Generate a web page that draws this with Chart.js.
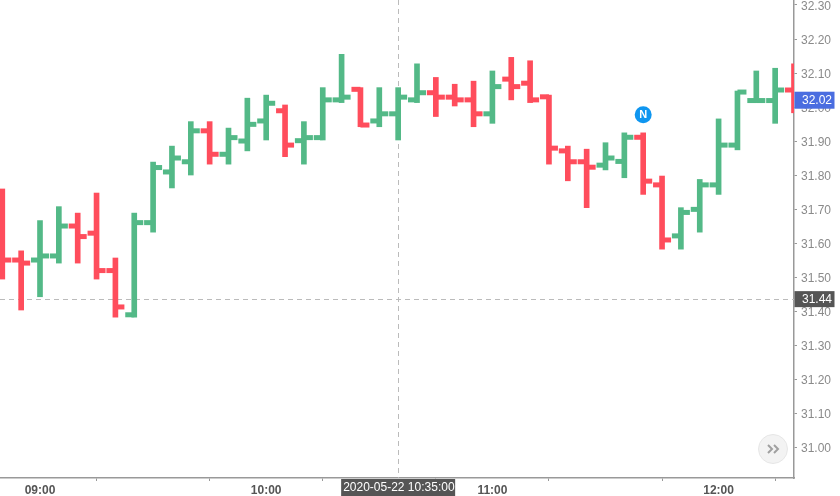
<!DOCTYPE html>
<html>
<head>
<meta charset="utf-8">
<style>
  html, body { margin: 0; padding: 0; background: #fff; }
  #wrap { width: 840px; height: 496px; }
</style>
<script src="https://cdn.jsdelivr.net/npm/chart.js@4/dist/chart.umd.min.js"></script>
</head>
<body>
<div id="wrap"><canvas id="chart"></canvas></div>
<script>
// 5 min bars
const times = ["08:50","08:55","09:00","09:05","09:10","09:15","09:20","09:25","09:30","09:35","09:40","09:45","09:50","09:55",
  "10:00","10:05","10:10","10:15","10:20","10:25","10:30","10:35","10:40","10:45","10:50","10:55",
  "11:00","11:05","11:10","11:15","11:20","11:25","11:30","11:35","11:40","11:45","11:50","11:55",
  "12:00","12:05","12:10","12:15","12:20"];
const opens  = [31.600,31.550,31.550,31.562,31.650,31.629,31.519,31.389,31.660,31.809,31.839,31.930,31.861,31.900,31.959,31.989,31.901,31.910,32.021,32.052,31.959,31.980,32.021,32.042,32.029,32.021,31.980,32.082,32.070,32.030,31.871,31.839,31.829,31.840,31.911,31.771,31.621,31.699,31.771,31.888,32.019,32.019,32.050];
const highs  = [31.759,31.577,31.666,31.707,31.688,31.747,31.556,31.688,31.838,31.885,31.957,31.957,31.938,32.026,32.035,32.006,31.957,32.057,32.155,32.057,32.057,32.057,32.127,32.087,32.067,32.076,32.106,32.146,32.136,32.035,31.885,31.876,31.895,31.924,31.924,31.797,31.704,31.787,31.965,32.047,32.106,32.114,32.127];
const lows   = [31.494,31.403,31.442,31.541,31.541,31.494,31.382,31.382,31.632,31.762,31.800,31.832,31.832,31.871,31.903,31.854,31.832,31.903,32.013,31.942,31.942,31.903,32.013,31.972,32.003,31.942,31.952,32.021,32.013,31.832,31.783,31.704,31.815,31.792,31.743,31.582,31.582,31.632,31.743,31.874,32.013,31.952,31.983];
const closes = [31.550,31.541,31.562,31.650,31.619,31.519,31.412,31.660,31.822,31.850,31.930,31.861,31.910,31.949,32.011,31.888,31.910,32.021,32.029,31.947,31.980,32.029,32.042,32.029,32.021,31.980,32.060,32.060,32.021,31.879,31.839,31.823,31.850,31.911,31.782,31.609,31.690,31.771,31.888,32.044,32.019,32.050,32.020];

const xTickBars = [0, 6, 12, 18, 24, 30, 36];
const xTickLabels = ["09:00", "", "10:00", "", "11:00", "", "12:00"];
const yTickLabels = ["31.00","31.10","31.20","31.30","31.40","31.50","31.60","31.70","31.80","31.90","32.00","32.10","32.20","32.30"];

const lastPrice = 32.02;
const crossBar = 19;
const crossPrice = 31.435;
const crossPriceLabel = "31.44";
const crossTimeLabel = "2020-05-22 10:35:00";
const newsBar = 32;
const newsPrice = 31.977;

const UP = "#53b987";
const DOWN = "#ff4d5c";
const FONT = '"Liberation Sans", Arial, sans-serif';

const barX = i => i - 2;
const colors = closes.map((c, i) => c >= opens[i] ? UP : DOWN);

function tag(ctx, x, y, w, h, bg, text, textX) {
  ctx.fillStyle = bg;
  ctx.fillRect(x, y, w, h);
  ctx.fillStyle = "#fff";
  ctx.font = "12px " + FONT;
  ctx.textAlign = "left";
  ctx.textBaseline = "middle";
  ctx.fillText(text, textX, y + h / 2 + 0.5);
}

const overlays = {
  id: "overlays",
  beforeDatasetsDraw(chart) {
    const { ctx, chartArea: a, scales: { x, y } } = chart;
    ctx.save();
    ctx.strokeStyle = "#bbbbbb";
    ctx.lineWidth = 1;
    ctx.setLineDash([5, 4]);
    const cx = Math.round(x.getPixelForValue(crossBar)) + 0.5;
    const cy = Math.round(y.getPixelForValue(crossPrice)) + 0.5;
    ctx.beginPath();
    ctx.moveTo(cx, a.top);
    ctx.lineTo(cx, a.bottom);
    ctx.moveTo(a.left, cy);
    ctx.lineTo(a.right, cy);
    ctx.stroke();
    ctx.restore();
  },
  afterDraw(chart) {
    const { ctx, chartArea: a, scales: { x, y } } = chart;
    ctx.save();
    const lastY = y.getPixelForValue(lastPrice);
    tag(ctx, a.right + 0.5, lastY - 8.5, 40, 17, "#4a6de0", lastPrice.toFixed(2), a.right + 8);
    const crossY = y.getPixelForValue(crossPrice);
    tag(ctx, a.right + 0.5, crossY - 8, 40, 16, "#555555", crossPriceLabel, a.right + 8);
    const crossX = x.getPixelForValue(crossBar);
    tag(ctx, crossX - 57, a.bottom + 1, 114, 17, "#555555", crossTimeLabel, crossX - 55);

    // news marker
    const nx = x.getPixelForValue(newsBar), ny = y.getPixelForValue(newsPrice);
    ctx.fillStyle = "#0f96f0";
    ctx.beginPath();
    ctx.arc(nx, ny, 8.5, 0, Math.PI * 2);
    ctx.fill();
    ctx.fillStyle = "#fff";
    ctx.font = "bold 11px " + FONT;
    ctx.textAlign = "center";
    ctx.textBaseline = "middle";
    ctx.fillText("N", nx, ny + 0.5);

    // scroll button
    const bx = 773, by = 449;
    ctx.fillStyle = "#f3f3f3";
    ctx.strokeStyle = "#e6e6e6";
    ctx.lineWidth = 1;
    ctx.beginPath();
    ctx.arc(bx, by, 14.5, 0, Math.PI * 2);
    ctx.fill();
    ctx.stroke();
    ctx.strokeStyle = "#a0a0a0";
    ctx.lineWidth = 2;
    ctx.beginPath();
    ctx.moveTo(bx - 5, by - 4); ctx.lineTo(bx - 1, by); ctx.lineTo(bx - 5, by + 4);
    ctx.moveTo(bx + 1, by - 4); ctx.lineTo(bx + 5, by); ctx.lineTo(bx + 1, by + 4);
    ctx.stroke();
    ctx.restore();
  }
};

new Chart(document.getElementById("chart"), {
  type: "bar",
  data: {
    datasets: [
      {
        label: "high-low",
        data: times.map((t, i) => ({ x: barX(i), y: [lows[i], highs[i]] })),
        backgroundColor: colors,
        barThickness: 5,
        borderWidth: 0,
        clip: 0
      },
      {
        type: "scatter",
        label: "open",
        data: times.map((t, i) => ({ x: barX(i), y: opens[i] })),
        showLine: false,
        pointStyle: "dash",
        pointRotation: 180,
        pointRadius: 9,
        pointBorderWidth: 5,
        pointBorderColor: colors,
        clip: 0
      },
      {
        type: "scatter",
        label: "close",
        data: times.map((t, i) => ({ x: barX(i), y: closes[i] })),
        showLine: false,
        pointStyle: "dash",
        pointRadius: 9,
        pointBorderWidth: 5,
        pointBorderColor: colors,
        clip: 0
      }
    ]
  },
  options: {
    responsive: true,
    maintainAspectRatio: false,
    animation: false,
    events: [],
    layout: { padding: 0, autoPadding: false },
    plugins: { legend: { display: false }, tooltip: { enabled: false } },
    scales: {
      x: {
        type: "linear",
        offset: false,
        min: -2.122,
        max: 40,
        afterBuildTicks: s => { s.ticks = xTickBars.map(v => ({ value: v })); },
        afterFit: s => { s.height = 18; s.paddingLeft = 0; s.paddingRight = 0; },
        grid: { display: true, drawOnChartArea: false, tickLength: 3, color: "#999" },
        border: { display: true, color: "#999", width: 1.5 },
        ticks: {
          autoSkip: false,
          maxRotation: 0,
          padding: 2,
          color: "#555",
          font: { family: FONT, size: 12, weight: "bold" },
          callback: v => xTickLabels[xTickBars.indexOf(v)]
        }
      },
      y: {
        position: "right",
        min: 30.909,
        max: 32.3147,
        afterBuildTicks: s => { s.ticks = yTickLabels.map(l => ({ value: Number(l) })); },
        afterFit: s => { s.width = 46; s.paddingTop = 0; s.paddingBottom = 0; },
        grid: { display: true, drawOnChartArea: false, tickLength: 3, color: "#999" },
        border: { display: true, color: "#999", width: 1.5 },
        ticks: {
          padding: 4,
          color: "#8a8a8a",
          // two line label with a tiny line height nudges the text down 1.5px
          font: { family: FONT, size: 12, lineHeight: 0.25 },
          callback: v => ["", v.toFixed(2)]
        }
      }
    }
  },
  plugins: [overlays]
});
</script>
</body>
</html>
